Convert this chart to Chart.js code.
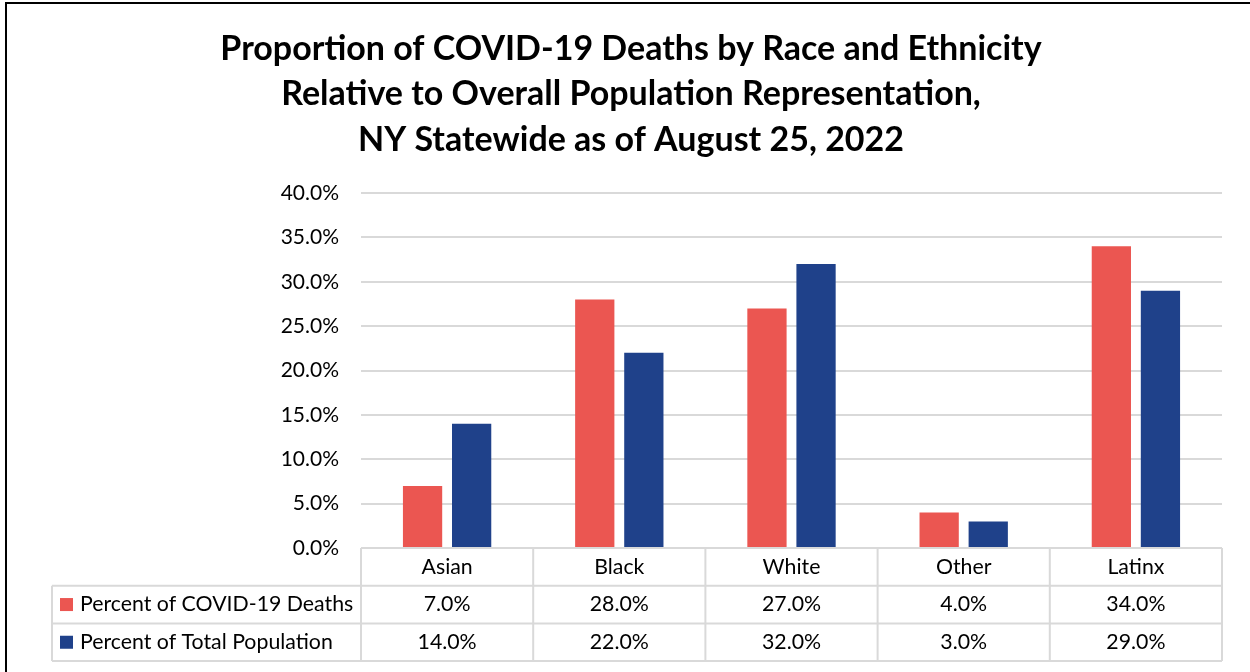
<!DOCTYPE html>
<html>
<head>
<meta charset="utf-8">
<title>COVID-19 Deaths by Race and Ethnicity</title>
<script src="https://cdn.jsdelivr.net/npm/chart.js@4.4.1/dist/chart.umd.min.js"></script>
<style>
  html, body { margin: 0; padding: 0; background: #fff; overflow: hidden; }
  #wrap { width: 1250px; height: 672px; }
</style>
</head>
<body>
<div id="wrap"><canvas id="chart" width="1250" height="672"></canvas></div>
<script>
'use strict';

const TITLE_LINES = [
  'Proportion of COVID-19 Deaths by Race and Ethnicity',
  'Relative to Overall Population Representation,',
  'NY Statewide as of August 25, 2022',
];

const CATEGORIES   = ['Asian', 'Black', 'White', 'Other', 'Latinx'];
const DEATHS_PCT   = [7.0, 28.0, 27.0, 4.0, 34.0];
const POP_PCT      = [14.0, 22.0, 32.0, 3.0, 29.0];
const SERIES_NAMES = ['Percent of COVID-19 Deaths', 'Percent of Total Population'];

const Y_MIN  = 0;
const Y_MAX  = 40;
const Y_STEP = 5;

const RED  = '#EB5651';
const BLUE = '#1F418A';
const GRID = '#d9d9d9';
const FONT = 'Lato, "Open Sans", sans-serif';

const fmt = v => v.toFixed(1) + '%';

// frame + title
const framePlugin = {
  id: 'frame',
  beforeDraw(chart) {
    const ctx = chart.ctx;
    ctx.save();
    ctx.fillStyle = '#fff';
    ctx.fillRect(0, 0, chart.width, chart.height);
    ctx.strokeStyle = '#000';
    ctx.lineWidth = 2;
    ctx.strokeRect(6, 3, chart.width + 20, chart.height + 20);
    ctx.fillStyle = '#000';
    ctx.font = `bold 34px ${FONT}`;
    ctx.textAlign = 'center';
    ctx.textBaseline = 'middle';
    TITLE_LINES.forEach((line, i) => ctx.fillText(line, 631, 49 + i * 45.5));
    ctx.restore();
  },
};

// data table under the plot, aligned with the category scale
const tablePlugin = {
  id: 'dataTable',
  afterDraw(chart) {
    const ctx    = chart.ctx;
    const x      = chart.scales.x;
    const area   = chart.chartArea;
    const colW   = (area.right - area.left) / CATEGORIES.length;
    const rowH   = 37.7;
    const top    = area.bottom;
    const rows   = [top, top + rowH, top + rowH * 2, top + rowH * 3];
    const labelL = 52;

    ctx.save();
    ctx.strokeStyle = GRID;
    ctx.lineWidth = 2;

    ctx.beginPath();
    // horizontal lines
    ctx.moveTo(area.left, rows[0]); ctx.lineTo(area.right, rows[0]);
    for (let r = 1; r < rows.length; r++) {
      ctx.moveTo(labelL, rows[r]); ctx.lineTo(area.right, rows[r]);
    }
    // vertical lines
    ctx.moveTo(labelL, rows[1]); ctx.lineTo(labelL, rows[3]);
    for (let c = 0; c <= CATEGORIES.length; c++) {
      const px = area.left + c * colW;
      ctx.moveTo(px, rows[0]); ctx.lineTo(px, rows[3]);
    }
    ctx.stroke();

    ctx.fillStyle = '#000';
    ctx.font = `21.3px ${FONT}`;
    ctx.textBaseline = 'middle';
    ctx.textAlign = 'center';

    const seriesVals = [DEATHS_PCT, POP_PCT];
    CATEGORIES.forEach((cat, i) => {
      const cx = x.getPixelForValue(i);
      ctx.fillText(cat, cx, (rows[0] + rows[1]) / 2);
      seriesVals.forEach((vals, s) => {
        ctx.fillText(fmt(vals[i]), cx, (rows[s + 1] + rows[s + 2]) / 2);
      });
    });

    // legend keys in the label column
    ctx.textAlign = 'left';
    [RED, BLUE].forEach((col, s) => {
      const cy = (rows[s + 1] + rows[s + 2]) / 2;
      ctx.fillStyle = col;
      ctx.fillRect(60, cy - 6.5, 13, 13);
      ctx.fillStyle = '#000';
      ctx.fillText(SERIES_NAMES[s], 80, cy);
    });
    ctx.restore();
  },
};

new Chart(document.getElementById('chart').getContext('2d'), {
  type: 'bar',
  data: {
    labels: CATEGORIES,
    datasets: [
      { label: SERIES_NAMES[0], data: DEATHS_PCT, backgroundColor: RED,  borderWidth: 0 },
      { label: SERIES_NAMES[1], data: POP_PCT,    backgroundColor: BLUE, borderWidth: 0 },
    ],
  },
  options: {
    responsive: false,
    animation: false,
    events: [],
    layout: { padding: { left: 0, right: 28, top: 193, bottom: 124 } },
    datasets: {
      bar: { categoryPercentage: 0.57, barPercentage: 0.8 },
    },
    plugins: {
      legend:  { display: false },
      title:   { display: false },
      tooltip: { enabled: false },
    },
    scales: {
      x: { display: false },
      y: {
        min: Y_MIN,
        max: Y_MAX,
        afterFit: s => { s.width = 361; },
        border: { display: false },
        grid: { color: GRID, lineWidth: 2, drawTicks: false },
        ticks: {
          stepSize: Y_STEP,
          padding: 22,
          color: '#000',
          font: { family: FONT, size: 21 },
          callback: v => fmt(v),
        },
      },
    },
  },
  plugins: [framePlugin, tablePlugin],
});
</script>
</body>
</html>
